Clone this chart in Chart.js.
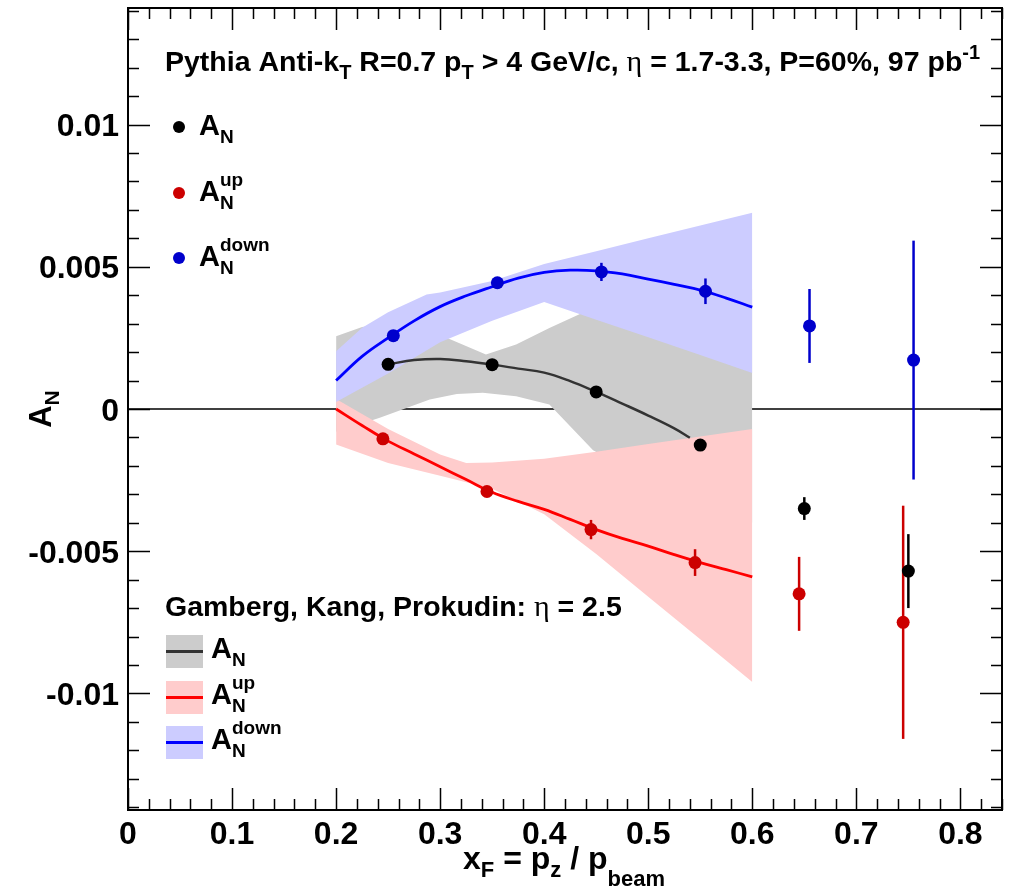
<!DOCTYPE html>
<html>
<head>
<meta charset="utf-8">
<script src="https://cdn.jsdelivr.net/npm/chart.js@4.4.1/dist/chart.umd.min.js"></script>
<style>
  html, body { margin: 0; padding: 0; background: #fff; }
</style>
</head>
<body>
<canvas id="grafica" width="1026" height="893"></canvas>
<script>
// measured points (x_F bins), up/down shifted a little sideways as in the plot
const xBins = [0.25, 0.35, 0.45, 0.55, 0.65, 0.75];
const binShift = 0.005;
const anVal = [0.00157, 0.00156, 0.0006, -0.00127, -0.0035, -0.0057];
const anErr = [0.0001, 0.0001, 0.00012, 0.00015, 0.0004, 0.0013];
const upVal = [-0.00105, -0.0029, -0.00424, -0.0054, -0.0065, -0.0075];
const upErr = [0.0001, 0.00012, 0.00034, 0.00047, 0.0013, 0.0041];
const downVal = [0.00258, 0.00444, 0.00482, 0.00414, 0.00292, 0.00172];
const downErr = [0.0001, 0.00012, 0.00032, 0.00045, 0.0013, 0.0042];

// Gamberg, Kang, Prokudin curves
const curveX = [0.2, 0.225, 0.25, 0.275, 0.3, 0.325, 0.35, 0.375, 0.4, 0.425, 0.45, 0.475, 0.5, 0.525, 0.55, 0.575, 0.6];
const curveUp = [0, -0.00058, -0.00113, -0.00158, -0.00203, -0.00248, -0.00293, -0.00325, -0.00353, -0.00388, -0.00424, -0.00455, -0.00482, -0.00512, -0.0054, -0.00565, -0.0059];
const curveDown = [0.001, 0.00185, 0.0025, 0.0031, 0.0036, 0.00398, 0.0043, 0.0046, 0.0048, 0.00488, 0.00486, 0.00475, 0.00457, 0.00438, 0.00418, 0.0039, 0.00358];
const curveAnX = [0.25, 0.275, 0.3, 0.325, 0.35, 0.375, 0.4, 0.425, 0.45, 0.475, 0.5, 0.525, 0.54];
const curveAn = [0.00157, 0.00172, 0.00176, 0.00168, 0.00156, 0.00142, 0.00128, 0.00098, 0.0006, 0.00019, -0.00023, -0.00068, -0.00101];

// uncertainty bands
const grayHiX = [0.2, 0.225, 0.25, 0.3, 0.344, 0.373, 0.405, 0.437, 0.45, 0.5, 0.55, 0.6];
const grayHi = [0.00256, 0.00288, 0.003, 0.0026, 0.00192, 0.00227, 0.00285, 0.00338, 0.0035, 0.0038, 0.004, 0.0042];
const grayLoX = [0.2, 0.242, 0.29, 0.316, 0.341, 0.373, 0.405, 0.447, 0.5, 0.55, 0.6];
const grayLo = [-0.0008, -0.00031, 0.00033, 0.00053, 0.00057, 0.00045, 0.00016, -0.00145, -0.0025, -0.0032, -0.004];
const redHiX = [0.2, 0.25, 0.3, 0.325, 0.35, 0.4, 0.45, 0.5, 0.55, 0.6];
const redHi = [0.00035, -0.0007, -0.0016, -0.0019, -0.00188, -0.00175, -0.0015, -0.00123, -0.00097, -0.0007];
const redLoX = [0.2, 0.25, 0.3, 0.35, 0.4, 0.45, 0.5, 0.55, 0.6];
const redLo = [-0.00125, -0.0019, -0.00235, -0.0028, -0.0037, -0.0051, -0.0066, -0.0081, -0.0096];
const blueHiX = [0.2, 0.225, 0.25, 0.287, 0.3, 0.35, 0.4, 0.45, 0.5, 0.55, 0.6];
const blueHi = [0.00203, 0.00286, 0.0034, 0.00403, 0.0041, 0.0045, 0.0051, 0.00555, 0.006, 0.00645, 0.0069];
const blueLoX = [0.2, 0.25, 0.3, 0.35, 0.4, 0.45, 0.5, 0.55, 0.6];
const blueLo = [0.00025, 0.00125, 0.00235, 0.0031, 0.00376, 0.00314, 0.00252, 0.0019, 0.00127];

const xTicks = [0, 0.1, 0.2, 0.3, 0.4, 0.5, 0.6, 0.7, 0.8];
const xTickLabels = ['0', '0.1', '0.2', '0.3', '0.4', '0.5', '0.6', '0.7', '0.8'];
const yTicks = [-0.01, -0.005, 0, 0.005, 0.01];
const yTickLabels = ['-0.01', '-0.005', '0', '0.005', '0.01'];

const pts = (xs, ys, dx) => xs.map((x, i) => ({ x: x + (dx || 0), y: ys[i] }));

const F = (s) => 'bold ' + s + 'px "Liberation Sans", Arial, sans-serif';
const G = (s) => s + 'px "Liberation Serif", "DejaVu Serif", serif';

// draws text pieces: [text, font, dy] or {sup, sub, font, dySup, dySub}
function rich(ctx, x, y, parts, align) {
  let w = 0;
  const widths = parts.map(p => {
    let pw;
    if (Array.isArray(p)) { ctx.font = p[1]; pw = ctx.measureText(p[0]).width; }
    else { ctx.font = p.font; pw = Math.max(ctx.measureText(p.sup).width, ctx.measureText(p.sub).width); }
    w += pw;
    return pw;
  });
  let cx = align === 'center' ? x - w / 2 : (align === 'right' ? x - w : x);
  ctx.textAlign = 'left';
  ctx.textBaseline = 'alphabetic';
  parts.forEach((p, i) => {
    if (Array.isArray(p)) {
      ctx.font = p[1];
      ctx.fillText(p[0], cx, y + (p[2] || 0));
    } else {
      ctx.font = p.font;
      ctx.fillText(p.sup, cx, y + p.dySup);
      ctx.fillText(p.sub, cx, y + p.dySub);
    }
    cx += widths[i];
  });
}

const rootFrame = {
  id: 'rootFrame',
  beforeDatasetsDraw(chart) {
    const { ctx, scales: { x, y } } = chart;
    ctx.save();
    ctx.strokeStyle = '#000';
    ctx.lineWidth = 1.5;
    ctx.beginPath();
    ctx.moveTo(x.getPixelForValue(0), y.getPixelForValue(0));
    ctx.lineTo(x.getPixelForValue(x.max), y.getPixelForValue(0));
    ctx.stroke();
    ctx.restore();
  },
  beforeDatasetDraw(chart, args) {
    const ds = chart.data.datasets[args.index];
    if (!ds.errs) return;
    const { ctx, scales: { x, y } } = chart;
    ctx.save();
    ctx.strokeStyle = ds.pointBackgroundColor;
    ctx.lineWidth = 2.5;
    ds.data.forEach((p, i) => {
      const px = x.getPixelForValue(p.x);
      ctx.beginPath();
      ctx.moveTo(px, y.getPixelForValue(p.y + ds.errs[i]));
      ctx.lineTo(px, y.getPixelForValue(p.y - ds.errs[i]));
      ctx.stroke();
    });
    ctx.restore();
  },
  afterDraw(chart) {
    const { ctx, chartArea: a, scales: { x, y } } = chart;
    ctx.save();
    ctx.strokeStyle = '#000';
    ctx.fillStyle = '#000';
    ctx.lineWidth = 1.5;
    ctx.beginPath();
    // x ticks, bottom and top
    for (let i = 0; i <= 42; i++) {
      const v = i * 0.02;
      const px = Math.round(x.getPixelForValue(v)) + 0.5;
      const len = i % 5 === 0 ? 22 : 11;
      ctx.moveTo(px, a.bottom); ctx.lineTo(px, a.bottom - len);
      ctx.moveTo(px, a.top); ctx.lineTo(px, a.top + len);
    }
    // y ticks, left and right
    for (let i = -14; i <= 14; i++) {
      const v = i * 0.001;
      const py = Math.round(y.getPixelForValue(v)) + 0.5;
      const len = i % 5 === 0 ? 22 : 11;
      ctx.moveTo(a.left, py); ctx.lineTo(a.left + len, py);
      ctx.moveTo(a.right, py); ctx.lineTo(a.right - len, py);
    }
    ctx.stroke();
    ctx.lineWidth = 2;
    ctx.strokeRect(a.left, a.top, a.right - a.left, a.bottom - a.top);

    // tick labels
    ctx.font = F(32);
    ctx.textBaseline = 'alphabetic';
    ctx.textAlign = 'center';
    xTicks.forEach((v, i) => ctx.fillText(xTickLabels[i], x.getPixelForValue(v), 844));
    ctx.textAlign = 'right';
    yTicks.forEach((v, i) => ctx.fillText(yTickLabels[i], 119, y.getPixelForValue(v) + 11.5));

    // axis titles
    rich(ctx, 564, 869, [['x', F(32)], ['F', F(22), 8], [' = p', F(32)], ['z', F(22), 8], [' / p', F(32)], ['beam', F(22), 17]], 'center');
    ctx.save();
    ctx.translate(51, 409);
    ctx.rotate(-Math.PI / 2);
    rich(ctx, 0, 0, [['A', F(31)], ['N', F(21), 8]], 'center');
    ctx.restore();

    // header
    rich(ctx, 165, 71, [
      ['Pythia Anti-k', F(28.5)], ['T', F(20), 8], [' R=0.7 p', F(28.5)], ['T', F(20), 8],
      [' > 4 GeV/c, ', F(28.5)], ['\u03b7', G(30)], [' = 1.7-3.3, P=60%, 97 pb', F(28.5)], ['-1', F(20), -12]
    ], 'left');

    // legend of data points
    const lg1 = [['#000000', 135, 'N', ''], ['#cc0000', 201, 'N', 'up'], ['#0000cc', 266, 'N', 'down']];
    lg1.forEach(([c, b, sub, sup]) => {
      ctx.fillStyle = c;
      ctx.beginPath(); ctx.arc(179, b - 8, 6, 0, Math.PI * 2); ctx.fill();
      ctx.fillStyle = '#000';
      rich(ctx, 199, b, [['A', F(29)], { sup: sup, sub: sub, font: F(19), dySup: -15, dySub: 8 }], 'left');
    });

    // legend of theory bands
    rich(ctx, 165, 616, [['Gamberg, Kang, Prokudin: ', F(28.5)], ['\u03b7', G(30)], [' = 2.5', F(28.5)]], 'left');
    const lg2 = [['#cccccc', '#333333', 635, ''], ['#ffcccc', '#ff0000', 681, 'up'], ['#ccccff', '#0000ff', 726, 'down']];
    lg2.forEach(([fc, lc, top, sup]) => {
      ctx.fillStyle = fc;
      ctx.fillRect(166, top, 37, 33);
      ctx.strokeStyle = lc;
      ctx.lineWidth = 3;
      ctx.beginPath(); ctx.moveTo(166, top + 16.5); ctx.lineTo(203, top + 16.5); ctx.stroke();
      ctx.fillStyle = '#000';
      rich(ctx, 211, top + 23, [['A', F(29)], { sup: sup, sub: 'N', font: F(19), dySup: -15, dySub: 8 }], 'left');
    });
    ctx.restore();
  }
};

function band(hx, hy, lx, ly, color, ord, loIndex) {
  return [
    { data: pts(hx, hy), fill: { target: loIndex }, backgroundColor: color, borderColor: 'rgba(0,0,0,0)', borderWidth: 1, pointRadius: 0, tension: 0, order: ord },
    { data: pts(lx, ly), fill: false, borderColor: 'rgba(0,0,0,0)', borderWidth: 1, pointRadius: 0, tension: 0, order: ord }
  ];
}

const datasets = [
  ...band(grayHiX, grayHi, grayLoX, grayLo, '#cccccc', 6, 1),
  ...band(redHiX, redHi, redLoX, redLo, '#ffcccc', 5, 3),
  ...band(blueHiX, blueHi, blueLoX, blueLo, '#ccccff', 4, 5),
  { data: pts(curveAnX, curveAn), borderColor: '#333333', borderWidth: 2.5, pointRadius: 0, fill: false, tension: 0.4, order: 3 },
  { data: pts(curveX, curveUp), borderColor: '#ff0000', borderWidth: 2.8, pointRadius: 0, fill: false, tension: 0.4, order: 3 },
  { data: pts(curveX, curveDown), borderColor: '#0000ff', borderWidth: 2.8, pointRadius: 0, fill: false, tension: 0.4, order: 3 },
  { data: pts(xBins, anVal), errs: anErr, showLine: false, pointRadius: 6.5, pointBorderWidth: 0, pointBackgroundColor: '#000000', order: 1 },
  { data: pts(xBins, upVal, -binShift), errs: upErr, showLine: false, pointRadius: 6.5, pointBorderWidth: 0, pointBackgroundColor: '#cc0000', order: 1 },
  { data: pts(xBins, downVal, binShift), errs: downErr, showLine: false, pointRadius: 6.5, pointBorderWidth: 0, pointBackgroundColor: '#0000cc', order: 1 }
];

new Chart(document.getElementById('grafica'), {
  type: 'line',
  data: { datasets: datasets },
  options: {
    responsive: false,
    animation: false,
    events: [],
    devicePixelRatio: 1,
    layout: { padding: { left: 128, right: 24, top: 8, bottom: 83 } },
    scales: {
      x: { type: 'linear', min: 0, max: 0.84, display: false },
      y: { type: 'linear', min: -0.0141, max: 0.0141, display: false }
    },
    plugins: { legend: { display: false }, tooltip: { enabled: false } }
  },
  plugins: [rootFrame]
});
</script>
</body>
</html>
